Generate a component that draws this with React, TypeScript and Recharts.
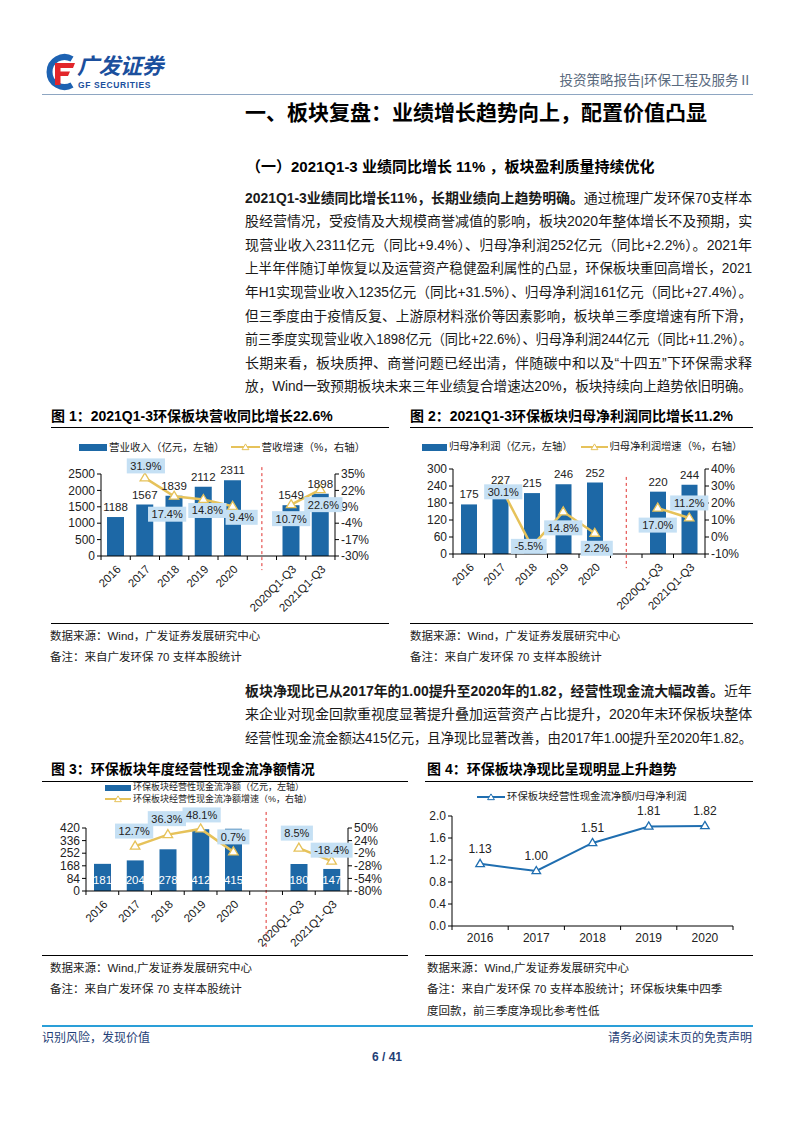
import React, { useLayoutEffect, useRef } from "react";
import { ComposedChart, Bar, Line, XAxis, YAxis, ReferenceLine } from "recharts";

const categories = ["2016", "2017", "2018", "2019", "2020", " ", "2020Q1-Q3", "2021Q1-Q3"];

const revenue = [1188, 1567, 1839, 2112, 2311, null, 1549, 1898];
const revenueGrowth = [null, 31.9, 17.4, 14.8, 9.4, null, 10.7, 22.6];
const revenueTicks = [0, 500, 1000, 1500, 2000, 2500];
const revenueGrowthTicks = [-30, -17, -4, 9, 22, 35];

const profit = [175, 227, 215, 246, 252, null, 220, 244];
const profitGrowth = [null, 30.1, -5.5, 14.8, 2.2, null, 17.0, 11.2];
const profitTicks = [0, 60, 120, 180, 240, 300];
const profitGrowthTicks = [-10, 0, 10, 20, 30, 40];

const cashFlow = [181, 204, 278, 412, 415, null, 180, 147];
const cashFlowGrowth = [null, 12.7, 36.3, 48.1, 0.7, null, 8.5, -18.4];
const cashTicks = [0, 84, 168, 252, 336, 420];
const cashGrowthTicks = [-80, -54, -28, -2, 24, 50];

const ratioYears = ["2016", "2017", "2018", "2019", "2020"];
const cashToProfit = [1.13, 1.0, 1.51, 1.81, 1.82];
const ratioTicks = [0, 0.4, 0.8, 1.2, 1.6, 2.0];

// label box placement relative to each growth point (dx, dy)
const revenueLabelPos = [null, [1, -12], [-7, 18], [4, 11], [9, 11], null, [0, 14], [3, 15]];
const profitLabelPos = [null, [3, 6], [-3, 0], [0, 16], [2, 15], null, [0, 17], [0, -15]];
const cashLabelPos = [null, [-1, -15], [-1, -16], [1, -14], [0, -15], null, [-2, -15], [0, -11]];

const CN = "'Liberation Sans', 'Noto Sans CJK SC', sans-serif";
const NUM = "'Liberation Sans', Arial, sans-serif";
const BAR = "#1d68a6";
const GOLD = "#e6c25a";
const BOX = "#c5e0f4";
const LINE_BLUE = "#1f6eb0";

const tri = (cx: number, cy: number, r: number) =>
  `M${cx},${cy - r} L${cx + r * 0.95},${cy + r * 0.6} L${cx - r * 0.95},${cy + r * 0.6} Z`;

const charW = (ch: string) => {
  if (ch === "%") return 9.8;
  if (ch === ".") return 3.1;
  if (ch === "-") return 3.7;
  return 6.1;
};

const growthLabel = (pos: any[]) => (p: any) => {
  const { x, y, value, index } = p;
  if (value == null || x == null || !pos[index]) return null;
  const [dx, dy] = pos[index];
  const text = `${Number(value).toFixed(1)}%`;
  const w = text.split("").reduce((s, c) => s + charW(c), 0) + 7;
  const cx = x + dx;
  const cy = y + dy;
  return (
    <g key={`gl-${index}`}>
      <rect x={cx - w / 2} y={cy - 7.5} width={w} height={15} fill={BOX} />
      <text x={cx} y={cy} dy="0.36em" textAnchor="middle" fontSize={11} fill="#222">
        {text}
      </text>
    </g>
  );
};

const triDot = (color: string, r: number) => (p: any) => {
  if (p.cx == null || p.cy == null || p.value == null) return <g key={`d-${p.index}`} />;
  return <path key={`d-${p.index}`} d={tri(p.cx, p.cy, r)} fill="#fff" stroke={color} strokeWidth={1.3} />;
};

const barTopLabel = (p: any) => {
  if (p.value == null) return null;
  return (
    <text x={p.x + p.width / 2} y={p.y - 6} textAnchor="middle" fontSize={11.5} fill="#222">
      {p.value}
    </text>
  );
};

const barInsideLabel = (p: any) => {
  if (p.value == null) return null;
  return (
    <text x={p.x + p.width / 2} y={p.y + p.height - 7.5} textAnchor="middle" fontSize={11.5} fill="#fff">
      {p.value}
    </text>
  );
};

// category tick: tick mark on the band boundary + rotated label
const slantTick = (half: number, count: number) => (p: any) => {
  const { x, y, payload, index } = p;
  const ax = x + 6;
  const ay = y + 14;
  return (
    <g>
      <line x1={x - half} y1={y} x2={x - half} y2={y + 4} stroke="#000" />
      {index === count - 1 && <line x1={x + half} y1={y} x2={x + half} y2={y + 4} stroke="#000" />}
      {payload.value.trim() && (
        <text x={ax} y={ay} textAnchor="end" fontSize={11.5} fill="#222" transform={`rotate(-45 ${ax} ${ay})`}>
          {payload.value}
        </text>
      )}
    </g>
  );
};

const flatTick = (half: number, count: number) => (p: any) => {
  const { x, y, payload, index } = p;
  return (
    <g>
      <line x1={x - half} y1={y} x2={x - half} y2={y + 4} stroke="#000" />
      {index === count - 1 && <line x1={x + half} y1={y} x2={x + half} y2={y + 4} stroke="#000" />}
      <text x={x} y={y + 16} textAnchor="middle" fontSize={12} fill="#222">
        {payload.value}
      </text>
    </g>
  );
};

type BLProps = {
  values: (number | null)[];
  growth: (number | null)[];
  leftTicks: number[];
  rightTicks: number[];
  labelPos: any[];
  width: number;
  height: number;
  margin: any;
  leftW: number;
  rightW: number;
  xH: number;
  half: number;
  barSize: number;
  inside?: boolean;
  dash: [number, number];
};

function BarLine(props: BLProps) {
  const data = categories.map((c, i) => ({ name: c, value: props.values[i], growth: props.growth[i] }));
  const lt = props.leftTicks;
  const rt = props.rightTicks;
  const tickStyle = { fontSize: 12, fill: "#222" };
  return (
    <ComposedChart width={props.width} height={props.height} data={data} margin={props.margin}>
      <XAxis
        dataKey="name"
        interval={0}
        height={props.xH}
        tickSize={0}
        tickMargin={0}
        tickLine={false}
        axisLine={{ stroke: "#000" }}
        tick={slantTick(props.half, categories.length)}
        xAxisId={0}
      />
      <YAxis
        yAxisId="left"
        width={props.leftW}
        domain={[lt[0], lt[lt.length - 1]]}
        ticks={lt}
        interval={0}
        tickSize={4}
        tick={tickStyle}
        axisLine={{ stroke: "#000" }}
        tickLine={{ stroke: "#000" }}
      />
      <YAxis
        yAxisId="right"
        orientation="right"
        width={props.rightW}
        domain={[rt[0], rt[rt.length - 1]]}
        ticks={rt}
        interval={0}
        tickSize={4}
        tick={tickStyle}
        tickFormatter={(v) => `${v}%`}
        axisLine={{ stroke: "#000" }}
        tickLine={{ stroke: "#000" }}
      />
      <ReferenceLine
        yAxisId="left"
        xAxisId={0}
        segment={[
          { x: " ", y: props.dash[0] },
          { x: " ", y: props.dash[1] },
        ]}
        ifOverflow="visible"
        stroke="#e0302e"
        strokeDasharray="3 3"
      />
      <Bar
        yAxisId="left"
        dataKey="value"
        fill={BAR}
        barSize={props.barSize}
        isAnimationActive={false}
        label={props.inside ? barInsideLabel : barTopLabel}
      />
      <Line
        yAxisId="right"
        dataKey="growth"
        stroke={GOLD}
        strokeWidth={2.5}
        connectNulls={false}
        dot={triDot(GOLD, 5)}
        activeDot={false}
        isAnimationActive={false}
        label={growthLabel(props.labelPos)}
      />
    </ComposedChart>
  );
}

function RatioChart() {
  const data = ratioYears.map((y, i) => ({ name: y, value: cashToProfit[i] }));
  return (
    <ComposedChart width={330} height={146} data={data} margin={{ top: 11, right: 17, bottom: 0, left: 0 }}>
      <XAxis
        dataKey="name"
        scale="band"
        interval={0}
        height={25}
        tickSize={0}
        tickMargin={0}
        tickLine={false}
        axisLine={{ stroke: "#000" }}
        tick={flatTick(28.1, ratioYears.length)}
      />
      <YAxis
        width={32}
        domain={[0, 2]}
        ticks={ratioTicks}
        interval={0}
        tickSize={4}
        tick={{ fontSize: 12, fill: "#222" }}
        tickFormatter={(v) => Number(v).toFixed(1)}
        axisLine={{ stroke: "#000" }}
        tickLine={{ stroke: "#000" }}
      />
      <Line
        dataKey="value"
        stroke={LINE_BLUE}
        strokeWidth={2}
        dot={triDot(LINE_BLUE, 4.5)}
        activeDot={false}
        isAnimationActive={false}
        label={(p: any) => (
          <text key={`rl-${p.index}`} x={p.x} y={p.y - 11} textAnchor="middle" fontSize={12} fill="#222">
            {Number(p.value).toFixed(2)}
          </text>
        )}
      />
    </ComposedChart>
  );
}

// ---- page text helpers ----
function T({ x, y, size, bold, color, right, children, style }: any) {
  const lh = size * 1.4;
  const s: any = {
    position: "absolute",
    top: y - lh / 2,
    fontSize: size,
    lineHeight: `${lh}px`,
    whiteSpace: "nowrap",
    fontWeight: bold ? 700 : 400,
    color: color || "#1a1a1a",
    ...style,
  };
  if (right != null) s.right = 793 - right;
  else s.left = x;
  return <div style={s}>{children}</div>;
}

function JLine({ x, y, w, size, children }: any) {
  const ref = useRef<HTMLDivElement>(null);
  useLayoutEffect(() => {
    const el = ref.current;
    if (!el) return;
    const sw = el.scrollWidth;
    if (sw > w + 0.5) el.style.transform = `scaleX(${w / sw})`;
  }, []);
  const lh = size * 1.5;
  return (
    <div
      ref={ref}
      style={{
        position: "absolute",
        left: x,
        top: y - lh / 2,
        width: w,
        fontSize: size,
        lineHeight: `${lh}px`,
        whiteSpace: "nowrap",
        textAlign: "justify",
        textAlignLast: "justify",
        transformOrigin: "left center",
        color: "#1a1a1a",
      }}
    >
      {children}
    </div>
  );
}

const HR = ({ x, y, w, h, color }: any) => (
  <div style={{ position: "absolute", left: x, top: y, width: w, height: h || 1, background: color || "#000" }} />
);

const legendRect = (w: number, h: number) => (
  <span style={{ display: "inline-block", width: w, height: h, background: BAR, verticalAlign: "middle", marginRight: 2 }} />
);
const legendLine = (w: number, color: string) => (
  <svg width={w} height={10} style={{ verticalAlign: "middle", marginRight: 2 }}>
    <line x1={0} y1={5} x2={w} y2={5} stroke={color} strokeWidth={2} />
    <path d={tri(w / 2, 5.5, 3.6)} fill="#fff" stroke={color} strokeWidth={1} />
  </svg>
);

const para1 = [
  [<b key="b">2021Q1-3业绩同比增长11%，长期业绩向上趋势明确。</b>, "通过梳理广发环保70支样本"],
  ["股经营情况，受疫情及大规模商誉减值的影响，板块2020年整体增长不及预期，实"],
  ["现营业收入2311亿元（同比+9.4%）、归母净利润252亿元（同比+2.2%）。2021年"],
  ["上半年伴随订单恢复以及运营资产稳健盈利属性的凸显，环保板块重回高增长，2021"],
  ["年H1实现营业收入1235亿元（同比+31.5%）、归母净利润161亿元（同比+27.4%）。"],
  ["但三季度由于疫情反复、上游原材料涨价等因素影响，板块单三季度增速有所下滑，"],
  ["前三季度实现营业收入1898亿元（同比+22.6%）、归母净利润244亿元（同比+11.2%）。"],
  ["长期来看，板块质押、商誉问题已经出清，伴随碳中和以及“十四五”下环保需求释"],
  ["放，Wind一致预期板块未来三年业绩复合增速达20%，板块持续向上趋势依旧明确。"],
];

const para2 = [
  [<b key="b">板块净现比已从2017年的1.00提升至2020年的1.82，经营性现金流大幅改善。</b>, "近年"],
  ["来企业对现金回款重视度显著提升叠加运营资产占比提升，2020年末环保板块整体"],
  ["经营性现金流金额达415亿元，且净现比显著改善，由2017年1.00提升至2020年1.82。"],
];

export default function App() {
  return (
    <div
      style={{
        position: "absolute",
        left: 0,
        top: 0,
        width: 793,
        height: 1122,
        background: "#fff",
        fontFamily: CN,
        overflow: "hidden",
      }}
    >
      <style>{`.recharts-surface { overflow: visible; }`}</style>
      {/* header */}
      <svg width={36} height={40} viewBox="0 0 36 40" style={{ position: "absolute", left: 41, top: 52 }}>
        <path d="M31 7 A15 15 0 1 0 31 33" fill="none" stroke="#1d62b2" strokeWidth={6} />
        <path d="M14 11 H34 L32 16 H19.5 V19.5 H29 L27 24 H19.5 V33 H14 Z" fill="#e2262b" />
      </svg>
      <T x={77} y={67} size={22} bold color="#1b4f9d" style={{ fontStyle: "italic", letterSpacing: -0.5 }}>
        广发证券
      </T>
      <T x={78} y={86} size={8.5} bold color="#1b4f9d" style={{ fontFamily: NUM, letterSpacing: 0.6 }}>
        GF SECURITIES
      </T>
      <T right={752} y={81} size={13.5} color="#5a6a7e">
        投资策略报告|环保工程及服务Ⅱ
      </T>
      <HR x={42} y={94} w={711} color="#8ea6c2" />

      <T x={245} y={113} size={21} bold color="#000">
        一、板块复盘：业绩增长趋势向上，配置价值凸显
      </T>
      <T x={246} y={166} size={15} bold color="#000">
        （一）2021Q1-3 业绩同比增长 11% ，板块盈利质量持续优化
      </T>

      {para1.map((ln, i) => (
        <JLine key={i} x={245} y={198 + i * 23.6} w={507} size={14}>
          {ln}
        </JLine>
      ))}

      {/* figure 1 */}
      <T x={51} y={417} size={14} bold color="#000">
        图 1：2021Q1-3环保板块营收同比增长22.6%
      </T>
      <HR x={51} y={427} w={338} />
      <div style={{ position: "absolute", left: 79, top: 439, fontSize: 10.5, lineHeight: "14px", whiteSpace: "nowrap", color: "#222" }}>
        {legendRect(28, 7)}
        <span style={{ verticalAlign: "middle", marginRight: 6 }}>营业收入（亿元，左轴）</span>
        {legendLine(29, GOLD)}
        <span style={{ verticalAlign: "middle" }}>营收增速（%，右轴）</span>
      </div>
      <div style={{ position: "absolute", left: 45, top: 460, fontFamily: NUM }}>
        <BarLine
          values={revenue}
          growth={revenueGrowth}
          leftTicks={revenueTicks}
          rightTicks={revenueGrowthTicks}
          labelPos={revenueLabelPos}
          width={345}
          height={160}
          margin={{ top: 14, right: 5, bottom: 4, left: 0 }}
          leftW={56}
          rightW={50}
          xH={60}
          half={14.6}
          barSize={17}
          dash={[2710, -430]}
        />
      </div>
      <HR x={51} y={623} w={338} />
      <T x={50} y={636} size={11.5}>数据来源：Wind，广发证券发展研究中心</T>
      <T x={50} y={657} size={11.5}>备注：来自广发环保 70 支样本股统计</T>

      {/* figure 2 */}
      <T x={410} y={417} size={14} bold color="#000">
        图 2：2021Q1-3环保板块归母净利润同比增长11.2%
      </T>
      <HR x={410} y={427} w={343} />
      <div style={{ position: "absolute", left: 422, top: 440, fontSize: 10.3, lineHeight: "14px", whiteSpace: "nowrap", color: "#222" }}>
        {legendRect(25, 7)}
        <span style={{ verticalAlign: "middle", marginRight: 8 }}>归母净利润（亿元，左轴）</span>
        {legendLine(27, GOLD)}
        <span style={{ verticalAlign: "middle" }}>归母净利润增速（%，右轴）</span>
      </div>
      <div style={{ position: "absolute", left: 405, top: 460, fontFamily: NUM }}>
        <BarLine
          values={profit}
          growth={profitGrowth}
          leftTicks={profitTicks}
          rightTicks={profitGrowthTicks}
          labelPos={profitLabelPos}
          width={345}
          height={160}
          margin={{ top: 9, right: 0, bottom: 4, left: 0 }}
          leftW={48}
          rightW={45}
          xH={62}
          half={15.75}
          barSize={16}
          dash={[272, -50]}
        />
      </div>
      <HR x={410} y={623} w={343} />
      <T x={410} y={636} size={11.5}>数据来源：Wind，广发证券发展研究中心</T>
      <T x={410} y={657} size={11.5}>备注：来自广发环保 70 支样本股统计</T>

      {para2.map((ln, i) => (
        <JLine key={i} x={245} y={691 + i * 23.6} w={507} size={14}>
          {ln}
        </JLine>
      ))}

      {/* figure 3 */}
      <T x={51} y={770} size={14} bold color="#000">
        图 3：环保板块年度经营性现金流净额情况
      </T>
      <HR x={42} y={781} w={366} />
      <div style={{ position: "absolute", left: 105, top: 782, fontSize: 9, lineHeight: "11.5px", whiteSpace: "nowrap", color: "#222" }}>
        <div>
          {legendRect(26, 6)}
          <span style={{ verticalAlign: "middle" }}>环保板块经营性现金流净额（亿元，左轴）</span>
        </div>
        <div>
          {legendLine(26, GOLD)}
          <span style={{ verticalAlign: "middle" }}>环保板块经营性现金流净额增速（%，右轴）</span>
        </div>
      </div>
      <div style={{ position: "absolute", left: 45, top: 815, fontFamily: NUM }}>
        <BarLine
          values={cashFlow}
          growth={cashFlowGrowth}
          leftTicks={cashTicks}
          rightTicks={cashGrowthTicks}
          labelPos={cashLabelPos}
          width={350}
          height={136}
          margin={{ top: 13, right: 0, bottom: 4, left: 0 }}
          leftW={41}
          rightW={47}
          xH={56}
          half={16.4}
          barSize={17}
          inside
          dash={[527, -373]}
        />
      </div>
      <HR x={42} y={955} w={366} />
      <T x={50} y={968} size={11.5}>数据来源：Wind,广发证券发展研究中心</T>
      <T x={50} y={989} size={11.5}>备注：来自广发环保 70 支样本股统计</T>

      {/* figure 4 */}
      <T x={427} y={770} size={14} bold color="#000">
        图 4：环保板块净现比呈现明显上升趋势
      </T>
      <HR x={425} y={781} w={328} />
      <div style={{ position: "absolute", left: 477, top: 790, fontSize: 10.4, lineHeight: "14px", whiteSpace: "nowrap", color: "#222" }}>
        {legendLine(28, LINE_BLUE)}
        <span style={{ verticalAlign: "middle" }}>环保板块经营性现金流净额/归母净利润</span>
      </div>
      <div style={{ position: "absolute", left: 420, top: 805, fontFamily: NUM }}>
        <RatioChart />
      </div>
      <HR x={425} y={955} w={328} />
      <T x={427} y={968} size={11.5}>数据来源：Wind,广发证券发展研究中心</T>
      <T x={427} y={989} size={11.5}>备注：来自广发环保 70 支样本股统计；环保板块集中四季</T>
      <T x={427} y={1011} size={11.5}>度回款，前三季度净现比参考性低</T>

      {/* footer */}
      <HR x={42} y={1025} w={711} h={2} color="#2a9fd8" />
      <T x={42} y={1038} size={12} color="#1f3f77">识别风险，发现价值</T>
      <T right={752} y={1038} size={12} color="#1f3f77">请务必阅读末页的免责声明</T>
      <T x={372} y={1057} size={12} bold color="#1f3f77" style={{ fontFamily: NUM }}>
        6 / 41
      </T>
    </div>
  );
}
